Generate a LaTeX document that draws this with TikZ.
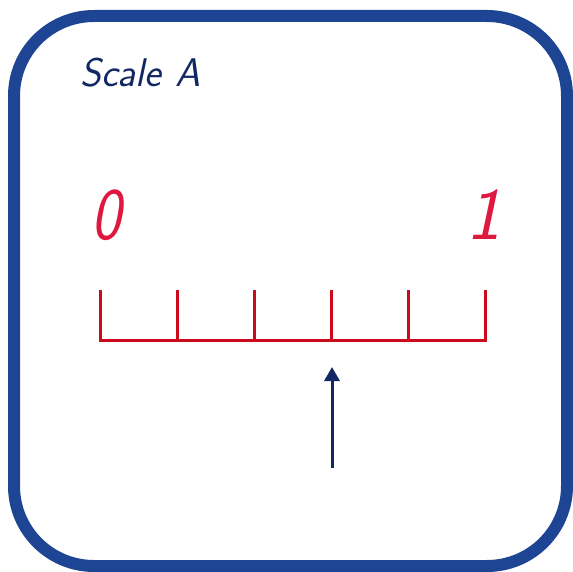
\documentclass[tikz,border=0pt]{standalone}
\usetikzlibrary{arrows.meta}
\definecolor{frameblue}{RGB}{30,68,148}
\definecolor{navy}{RGB}{18,40,100}
\definecolor{scalered}{RGB}{204,10,30}
\definecolor{labelred}{RGB}{222,24,62}
\tikzset{
  frame/.style={draw=frameblue, line width=12pt, rounded corners=80pt},
  scaleline/.style={draw=scalered, line width=3pt},
  numlabel/.style={text=labelred, font=\fontsize{74}{74}\selectfont\sffamily\itshape, inner sep=0pt},
  titlelabel/.style={text=navy, font=\fontsize{40}{40}\selectfont\sffamily\itshape, inner sep=0pt, anchor=west},
  pointer/.style={draw=navy, line width=3pt, -{Triangle[length=14pt,width=15pt]}}
}
\begin{document}
\begin{tikzpicture}[x=1pt,y=-1pt]
\useasboundingbox (0,0) rectangle (573,572);
\draw[frame] (14,16) rectangle (567,566);
\node[titlelabel] (title) at (80,73) {Scale\hspace{0.35em}A};
\node[numlabel, xscale=0.85] (zero) at (106,215) {0};
\node[numlabel] (one) at (484,215) {1};
\coordinate (a0) at (100,290);
\coordinate (b0) at (100,340);
\coordinate (b5) at (485,340);
\coordinate (a5) at (485,290);
\draw[scaleline] (a0) -- (b0) -- (b5) -- (a5);
\foreach \i/\x in {1/177,2/254,3/331,4/408}{
  \coordinate (t\i) at (\x,290);
  \coordinate (u\i) at (\x,340);
  \draw[scaleline] (t\i) -- (u\i);
}
\coordinate (tail) at (332,468);
\coordinate (tip) at (332,367);
\draw[pointer] (tail) -- (tip);
\end{tikzpicture}
\end{document}
